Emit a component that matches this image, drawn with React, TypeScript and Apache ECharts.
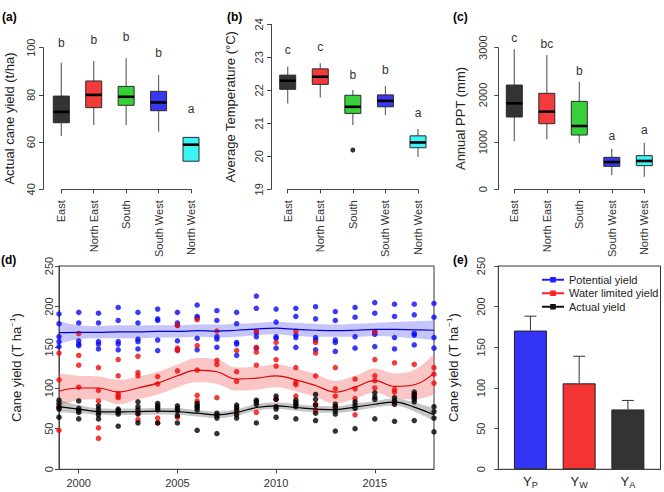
import React, { useEffect, useRef } from "react";
import * as echarts from "echarts";

const FONT = "Liberation Sans, Arial, sans-serif";

const regions = ["East", "North East", "South", "South West", "North West"];
const boxColors = ["#333333", "#f43a3a", "#38d038", "#3838ee", "#3cf4f4"];

// [min, Q1, median, Q3, max]
const yieldBoxes = [
  [62.6, 68.2, 72.8, 79.5, 93.6],
  [67.2, 74.6, 80.0, 85.9, 94.4],
  [67.2, 75.6, 79.2, 83.6, 95.5],
  [64.4, 73.3, 76.8, 81.5, 88.4],
  [51.9, 51.9, 58.9, 62.0, 62.0],
];
const yieldLetters = ["b", "b", "b", "b", "a"];
const yieldLetterY = [102.1, 103.3, 104.4, 97.6, 74];

const tempBoxes = [
  [21.6, 22.03, 22.29, 22.46, 22.72],
  [21.78, 22.18, 22.41, 22.65, 22.82],
  [20.95, 21.3, 21.5, 21.85, 22.01],
  [21.25, 21.5, 21.68, 21.86, 22.13],
  [19.99, 20.26, 20.42, 20.62, 20.83],
];
const tempOutliers = [[3, 20.19]];
const tempLetters = ["c", "c", "b", "b", "a"];
const tempLetterY = [23.22, 23.32, 22.46, 22.61, 21.3];

const pptBoxes = [
  [1016, 1532, 1821, 2209, 2965],
  [1059, 1390, 1645, 2033, 2845],
  [974, 1150, 1341, 1863, 2280],
  [296, 487, 578, 677, 861],
  [268, 501, 600, 713, 988],
];
const pptLetters = ["c", "bc", "b", "a", "a"];
const pptLetterY = [3212, 3078, 2513, 1131, 1256];

const years = [1999, 2000, 2001, 2002, 2003, 2004, 2005, 2006, 2007, 2008, 2009, 2010, 2011, 2012, 2013, 2014, 2015, 2016, 2017, 2018];
const yearTickStep = 5;

const potentialPts = [
  [191, 179, 163, 157, 151], [193, 180, 158, 154, 152], [192, 180, 157, 154, 148], [199, 183, 157, 154, 147],
  [193, 180, 160, 157, 148], [197, 185, 183, 159, 146], [193, 180, 177, 158, 147], [202, 188, 186, 161, 147],
  [195, 183, 163, 160, 150], [193, 179, 156, 154, 140], [213, 198, 168, 163, 149], [197, 181, 163, 161, 149],
  [198, 188, 165, 162, 150], [200, 185, 162, 159, 147], [194, 183, 159, 156, 145], [199, 187, 163, 149],
  [205, 192, 169, 166, 151], [203, 188, 162, 148], [203, 190, 167, 165, 153], [204, 187, 162, 149],
];
const waterPts = [
  [143, 110, 76, 48], [167, 140, 128, 101], [125, 97, 84, 51, 38], [135, 115, 93, 90, 88],
  [139, 119, 115, 69, 61], [114, 105, 63, 57], [177, 149, 146, 121, 64], [184, 152, 122, 91, 84],
  [170, 134, 129, 88], [146, 120, 108, 70], [170, 150, 144, 128, 70], [156, 135, 127, 86],
  [170, 125, 107, 104, 90], [156, 143, 115, 80, 73], [125, 99, 90, 76], [111, 99, 87, 67],
  [169, 135, 115, 109, 100], [131, 98, 95, 83], [129, 92, 89], [125, 117, 106],
];
const actualPts = [
  [85, 81, 77, 74, 64], [84, 75, 72, 70, 62], [78, 74, 70, 67, 62], [74, 72, 70, 68, 53],
  [83, 77, 73, 68, 57], [81, 78, 76, 73, 57], [78, 75, 72, 66, 57], [81, 78, 76, 73, 48],
  [69, 66, 63, 44], [79, 76, 73, 67, 63], [85, 83, 80, 57], [90, 86, 77, 74, 64],
  [85, 82, 80, 77, 62], [92, 86, 79, 69, 60], [80, 77, 72, 68, 47], [83, 79, 75, 50],
  [94, 89, 86, 62], [88, 84, 80, 59], [95, 92, 89, 86, 83, 60], [77, 71, 63, 46],
];

const potentialFit = [168, 168.5, 168.5, 169, 169, 169.5, 169.5, 170.5, 170, 171, 172.5, 173.5, 172, 171, 170.5, 171, 172, 172, 171.5, 171];
const potentialLow = [154, 160, 161, 161, 161, 162, 162, 163, 162, 163, 165, 166, 164, 163, 163, 163, 164, 163, 161, 159];
const potentialHigh = [182, 177, 176, 177, 177, 177, 177, 178, 178, 179, 180, 181, 180, 179, 178, 179, 180, 181, 182, 183];

const waterFit = [96, 100, 100, 95, 100, 106, 115, 122, 120, 111, 112, 115, 110, 103, 95, 101, 109, 102, 104, 118];
const waterLow = [78, 85, 86, 80, 86, 92, 101, 107, 105, 97, 98, 101, 96, 89, 81, 87, 94, 87, 86, 92];
const waterHigh = [118, 115, 114, 110, 114, 120, 129, 137, 135, 125, 126, 129, 124, 117, 109, 115, 124, 118, 122, 142];

const actualFit = [77, 74, 71, 70.5, 71, 71.5, 71, 69, 67, 70, 76, 78, 76, 74, 73.5, 76.5, 80, 82.5, 76.5, 67];
const actualLow = [70, 69, 67, 66.5, 67, 67.5, 67, 65, 63, 66, 72, 74, 72, 70, 69.5, 72, 76, 78, 71, 59];
const actualHigh = [85, 79, 75, 74.5, 75, 75.5, 75, 73, 71, 74, 80, 82, 80, 78, 77.5, 81, 84, 87, 82, 75];

const barPos = [1, 2, 3];
const barSubs = ["P", "W", "A"];
const barValues = [170.6, 105.7, 73.6];
const barErrTop = [188.3, 139, 84.7];
const barColors = ["#3434f4", "#f43434", "#333333"];

const legendNames = ["Potential yield", "Water limited yield", "Actual yield"];
const legendColors = ["#2020ff", "#ff2020", "#111111"];

const axisColor = "#444";
const labelColor = "#333";

function boxRender(params: any, api: any) {
  const x = api.value(0);
  const lo = api.coord([x, api.value(1)]);
  const q1 = api.coord([x, api.value(2)]);
  const med = api.coord([x, api.value(3)]);
  const q3 = api.coord([x, api.value(4)]);
  const hi = api.coord([x, api.value(5)]);
  const w = 16;
  const cx = lo[0];
  return {
    type: "group",
    children: [
      { type: "line", shape: { x1: cx, y1: hi[1], x2: cx, y2: q3[1] }, style: { stroke: "#666", lineWidth: 1.2 } },
      { type: "line", shape: { x1: cx, y1: q1[1], x2: cx, y2: lo[1] }, style: { stroke: "#666", lineWidth: 1.2 } },
      {
        type: "rect",
        shape: { x: cx - w / 2, y: q3[1], width: w, height: q1[1] - q3[1] },
        style: { fill: boxColors[params.dataIndex], stroke: "#2a2a2a", lineWidth: 1 },
      },
      { type: "line", shape: { x1: cx - w / 2, y1: med[1], x2: cx + w / 2, y2: med[1] }, style: { stroke: "#000", lineWidth: 2.6 } },
    ],
  };
}

function letterRender(letters: string[]) {
  return (params: any, api: any) => {
    const p = api.coord([api.value(0), api.value(1)]);
    return {
      type: "text",
      x: p[0],
      y: p[1],
      style: {
        text: letters[params.dataIndex],
        textAlign: "center",
        textVerticalAlign: "middle",
        fontSize: 12,
        fontFamily: FONT,
        fill: "#333",
      },
    };
  };
}

const plain = (v: number) => String(v);

function catXAxis(gridIndex: number) {
  return {
    type: "value",
    gridIndex,
    min: 1,
    max: 5,
    interval: 1,
    splitLine: { show: false },
    axisLine: { show: true, lineStyle: { color: axisColor } },
    axisTick: { show: true, length: 4, lineStyle: { color: axisColor } },
    axisLabel: {
      rotate: 90,
      margin: 11,
      fontSize: 11,
      color: labelColor,
      fontFamily: FONT,
      formatter: (v: number) => regions[Math.round(v) - 1] || "",
    },
  };
}

function yAxisDef(gridIndex: number, min: number, max: number, interval: number, name: string, nameGap: number, offset: number, margin: number) {
  return {
    type: "value",
    gridIndex,
    min,
    max,
    interval,
    offset,
    name,
    nameLocation: "middle",
    nameRotate: 90,
    nameGap,
    nameMoveOverlap: false,
    nameTextStyle: {
      fontSize: 13,
      color: "#222",
      fontFamily: FONT,
      lineHeight: 16,
      rich: { sup: { fontSize: 8, lineHeight: 8, verticalAlign: "top", fontFamily: FONT, color: "#222" } },
    },
    splitLine: { show: false },
    axisLine: { show: true, lineStyle: { color: axisColor } },
    axisTick: { show: true, length: 4, lineStyle: { color: axisColor } },
    axisLabel: { rotate: 90, margin, fontSize: 11, color: labelColor, fontFamily: FONT, formatter: plain },
  };
}

function flatten(pts: number[][]) {
  const out: number[][] = [];
  pts.forEach((arr, i) => arr.forEach((v) => out.push([years[i], v])));
  return out;
}

function bandSeries(id: string, low: number[], high: number[], color: string) {
  return [
    {
      type: "line",
      xAxisIndex: 5,
      yAxisIndex: 3,
      stack: id,
      smooth: 0.4,
      symbol: "none",
      lineStyle: { opacity: 0 },
      data: low.slice(),
      z: 1,
    },
    {
      type: "line",
      xAxisIndex: 5,
      yAxisIndex: 3,
      stack: id,
      smooth: 0.4,
      symbol: "none",
      lineStyle: { opacity: 0 },
      areaStyle: { color, opacity: 1 },
      data: high.map((h, i) => h - low[i]),
      z: 1,
    },
  ];
}

function fitSeries(fit: number[], color: string) {
  return {
    type: "line",
    xAxisIndex: 3,
    yAxisIndex: 3,
    smooth: 0.4,
    symbol: "none",
    lineStyle: { color, width: 1.2 },
    data: years.map((y, i) => [y, fit[i]]),
    z: 4,
  };
}

function scatterSeries(pts: number[][], color: string) {
  return {
    type: "scatter",
    xAxisIndex: 3,
    yAxisIndex: 3,
    symbolSize: 5.5,
    itemStyle: { color },
    data: flatten(pts),
    z: 3,
  };
}

const isYearTick = (index: number, value: string) => Number(value) % yearTickStep === 0;

export default function App() {
  const ref = useRef<HTMLDivElement>(null);
  useEffect(() => {
    if (!ref.current) return;
    const chart = echarts.init(ref.current, null, { renderer: "svg" });
    const titleStyle = { fontSize: 12, fontWeight: "bold", color: "#000", fontFamily: FONT };
    const option: any = {
      animation: false,
      backgroundColor: "#ffffff",
      textStyle: { fontFamily: FONT },
      title: [
        { text: "(a)", left: 2, top: 11, padding: 0, textStyle: titleStyle },
        { text: "(b)", left: 227, top: 11, padding: 0, textStyle: titleStyle },
        { text: "(c)", left: 453, top: 11, padding: 0, textStyle: titleStyle },
        { text: "(d)", left: 1, top: 254, padding: 0, textStyle: titleStyle },
        { text: "(e)", left: 453, top: 254, padding: 0, textStyle: titleStyle },
      ],
      legend: {
        data: legendNames,
        orient: "vertical",
        left: 541,
        top: 273,
        padding: 0,
        itemWidth: 22,
        itemHeight: 7,
        itemGap: 0,
        selectedMode: false,
        textStyle: { fontSize: 11, color: "#222", fontFamily: FONT, lineHeight: 13.5 },
      },
      grid: [
        { left: 61.3, top: 47.7, width: 129.7, height: 141.6 },
        { left: 287.7, top: 24.3, width: 130.3, height: 165 },
        { left: 514.3, top: 47.7, width: 130, height: 141.6 },
        { left: 44.3, top: 266, width: 389.7, height: 203.3, show: true, borderColor: "#333", borderWidth: 1 },
        { left: 498.3, top: 266, width: 162.2, height: 203.3, show: true, borderColor: "#333", borderWidth: 1 },
      ],
      xAxis: [
        catXAxis(0),
        catXAxis(1),
        catXAxis(2),
        {
          type: "value",
          gridIndex: 3,
          position: "bottom",
          min: 1999,
          max: 2018,
          show: false,
          splitLine: { show: false },
        },
        {
          type: "value",
          gridIndex: 4,
          min: 0.34,
          max: 3.67,
          splitLine: { show: false },
          axisLine: { show: true, lineStyle: { color: axisColor } },
          axisTick: { show: false },
          axisLabel: {
            customValues: barPos,
            margin: 5,
            color: "#222",
            fontFamily: FONT,
            formatter: (v: number) => "{y|Y}{s|" + (barSubs[Math.round(v) - 1] || "") + "}",
            rich: {
              y: { fontSize: 13, lineHeight: 15, fontFamily: FONT, color: "#222" },
              s: { fontSize: 9, lineHeight: 9, verticalAlign: "bottom", fontFamily: FONT, color: "#222" },
            },
          },
        },
        {
          type: "category",
          gridIndex: 3,
          position: "bottom",
          data: years.map(String),
          boundaryGap: false,
          splitLine: { show: false },
          axisLine: { show: true, lineStyle: { color: axisColor } },
          axisTick: { show: true, length: 4, interval: isYearTick, lineStyle: { color: axisColor } },
          axisLabel: {
            interval: isYearTick,
            margin: 8,
            fontSize: 11,
            color: labelColor,
            fontFamily: FONT,
          },
        },
      ],
      yAxis: [
        yAxisDef(0, 40, 100, 20, "Actual cane yield (t/ha)", 26, 18.3, 7),
        yAxisDef(1, 19, 24, 1, "Average Temperature (°C)", 33, 16.7, 6.5),
        yAxisDef(2, 0, 3000, 1000, "Annual PPT (mm)", 30, 16, 10),
        yAxisDef(3, 0, 250, 50, "Cane yield (T ha{sup|−1})", 35, 0, 5),
        yAxisDef(4, 0, 250, 50, "Cane yield (T ha{sup|−1})", 37, 0, 12),
      ],
      series: [
        // Panel a
        {
          type: "custom",
          xAxisIndex: 0,
          yAxisIndex: 0,
          renderItem: boxRender,
          encode: { x: 0, y: [1, 2, 3, 4, 5] },
          data: yieldBoxes.map((b, i) => [i + 1, ...b]),
        },
        {
          type: "custom",
          xAxisIndex: 0,
          yAxisIndex: 0,
          renderItem: letterRender(yieldLetters),
          data: yieldLetterY.map((v, i) => [i + 1, v]),
        },
        // Panel b
        {
          type: "custom",
          xAxisIndex: 1,
          yAxisIndex: 1,
          renderItem: boxRender,
          encode: { x: 0, y: [1, 2, 3, 4, 5] },
          data: tempBoxes.map((b, i) => [i + 1, ...b]),
        },
        {
          type: "scatter",
          xAxisIndex: 1,
          yAxisIndex: 1,
          symbolSize: 5,
          itemStyle: { color: "#000" },
          data: tempOutliers,
        },
        {
          type: "custom",
          xAxisIndex: 1,
          yAxisIndex: 1,
          renderItem: letterRender(tempLetters),
          data: tempLetterY.map((v, i) => [i + 1, v]),
        },
        // Panel c
        {
          type: "custom",
          xAxisIndex: 2,
          yAxisIndex: 2,
          renderItem: boxRender,
          encode: { x: 0, y: [1, 2, 3, 4, 5] },
          data: pptBoxes.map((b, i) => [i + 1, ...b]),
        },
        {
          type: "custom",
          xAxisIndex: 2,
          yAxisIndex: 2,
          renderItem: letterRender(pptLetters),
          data: pptLetterY.map((v, i) => [i + 1, v]),
        },
        // Panel d
        ...bandSeries("pb", potentialLow, potentialHigh, "rgba(110,110,240,0.4)"),
        ...bandSeries("wb", waterLow, waterHigh, "rgba(240,110,110,0.4)"),
        ...bandSeries("ab", actualLow, actualHigh, "rgba(110,110,110,0.4)"),
        scatterSeries(potentialPts, "#0a0af5"),
        scatterSeries(waterPts, "#f00a0a"),
        scatterSeries(actualPts, "#000000"),
        fitSeries(potentialFit, "#0000dd"),
        fitSeries(waterFit, "#e00000"),
        fitSeries(actualFit, "#000000"),
        // Panel e
        {
          type: "bar",
          xAxisIndex: 4,
          yAxisIndex: 4,
          barWidth: 33,
          data: barPos.map((x, i) => [x, barValues[i]]),
          itemStyle: {
            color: (p: any) => barColors[p.dataIndex],
            borderColor: "#222",
            borderWidth: 1,
          },
          z: 2,
        },
        {
          type: "custom",
          xAxisIndex: 4,
          yAxisIndex: 4,
          encode: { x: 0, y: [1, 2] },
          data: barPos.map((x, i) => [x, barValues[i], barErrTop[i]]),
          renderItem: (params: any, api: any) => {
            const x = api.value(0);
            const a = api.coord([x, api.value(1)]);
            const b = api.coord([x, api.value(2)]);
            return {
              type: "group",
              children: [
                { type: "line", shape: { x1: a[0], y1: a[1], x2: b[0], y2: b[1] }, style: { stroke: "#333", lineWidth: 1 } },
                { type: "line", shape: { x1: b[0] - 6, y1: b[1], x2: b[0] + 6, y2: b[1] }, style: { stroke: "#333", lineWidth: 1 } },
              ],
            };
          },
          z: 3,
        },
        ...legendNames.map((name, i) => ({
          type: "line",
          name,
          xAxisIndex: 4,
          yAxisIndex: 4,
          data: [],
          symbol: "rect",
          symbolSize: 6,
          itemStyle: { color: legendColors[i] },
          lineStyle: { color: legendColors[i], width: 1 },
        })),
      ],
    };
    chart.setOption(option);
    return () => chart.dispose();
  }, []);
  return <div ref={ref} style={{ position: "absolute", left: 0, top: 0, width: 664, height: 492 }} />;
}
